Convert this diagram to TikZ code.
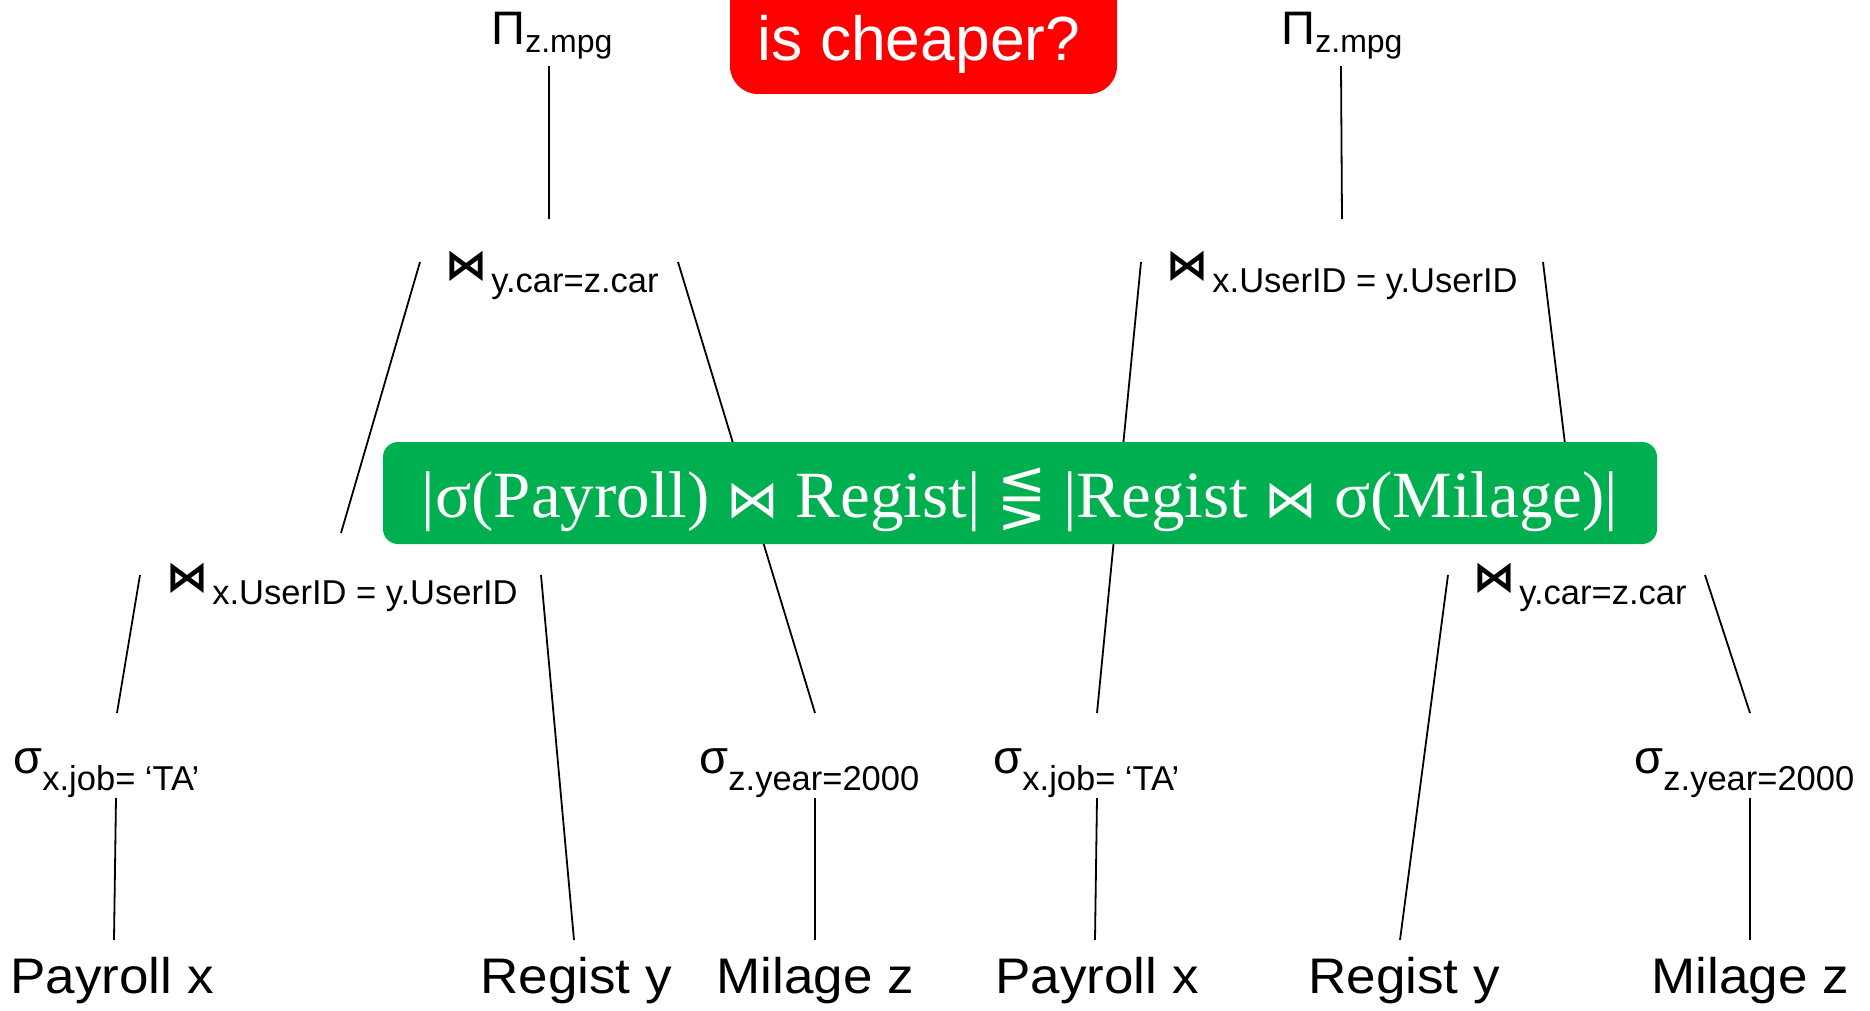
\documentclass[tikz,border=0pt]{standalone}
\usepackage{fontspec}
\usepackage{graphicx}
\setmainfont{Liberation Sans}
\newfontfamily\symfont{DejaVu Sans}
\newfontfamily\serfont{Liberation Serif}
\definecolor{cmpgreen}{RGB}{0,176,80}
\definecolor{askred}{RGB}{255,0,0}

% operator symbol with a lowered subscript condition
\newcommand{\oplabel}[4]{{\fontsize{23.5pt}{23.5pt}\selectfont #1}\raisebox{-#3}{\fontsize{#4}{#4}\selectfont #2}}
\newcommand{\joinlabel}[1]{{\symfont\bfseries\fontsize{21pt}{21pt}\selectfont ⋈}\hspace{2pt}\raisebox{-6.5pt}{\fontsize{17.25pt}{17.25pt}\selectfont #1}}
\newcommand{\leaftext}[1]{\scalebox{1.06}[1]{\fontsize{25pt}{25pt}\selectfont #1}}
% operator glyphs inside the comparison banner
\newcommand{\bnjoin}{{\symfont\fontsize{26pt}{26pt}\selectfont ⋈}}
\newcommand{\bnlesgtr}{{\symfont\fontsize{29pt}{29pt}\selectfont ⋚}}

\tikzset{
  lbl/.style={inner sep=0pt, anchor=base west},
  edge/.style={line width=0.9pt, black},
}

\begin{document}
\begin{tikzpicture}[x=0.5pt, y=-0.5pt]
\useasboundingbox (0,0) rectangle (1870,1011);
\clip (0,0) rectangle (1870,1011);

% ---- left plan ----
\node[lbl] (piL)  at (491,45)  {\oplabel{Π}{z.mpg}{4pt}{16pt}};
\node[lbl] (jL2)  at (445,279) {\joinlabel{y.car=z.car}};
\node[lbl] (jL3)  at (166,591) {\joinlabel{x.UserID = y.UserID}};
\node[lbl] (sxL)  at (13,773)  {\oplabel{σ}{x.job= ‘TA’}{8.5pt}{17.25pt}};
\node[lbl] (szL)  at (699,773) {\oplabel{σ}{z.year=2000}{8.5pt}{17.25pt}};
\node[lbl] (payL) at (10,993)  {\leaftext{Payroll x}};
\node[lbl] (regL) at (480,993) {\leaftext{Regist y}};
\node[lbl] (milL) at (716,993) {\leaftext{Milage z}};

% ---- right plan ----
\node[lbl] (piR)  at (1281,45)  {\oplabel{Π}{z.mpg}{4pt}{16pt}};
\node[lbl] (jR2)  at (1166,279) {\joinlabel{x.UserID = y.UserID}};
\node[lbl] (jR3)  at (1473,591) {\joinlabel{y.car=z.car}};
\node[lbl] (sxR)  at (993,773)  {\oplabel{σ}{x.job= ‘TA’}{8.5pt}{17.25pt}};
\node[lbl] (szR)  at (1634,773) {\oplabel{σ}{z.year=2000}{8.5pt}{17.25pt}};
\node[lbl] (payR) at (995,993)  {\leaftext{Payroll x}};
\node[lbl] (regR) at (1308,993) {\leaftext{Regist y}};
\node[lbl] (milR) at (1651,993) {\leaftext{Milage z}};

% ---- edge end points ----
\coordinate (piL-b)  at (549,66);   \coordinate (jL2-t)  at (549,219);
\coordinate (jL2-bl) at (420,262);  \coordinate (jL3-t)  at (341,533);
\coordinate (jL2-br) at (678,262);  \coordinate (szL-t)  at (815,713);
\coordinate (jL3-bl) at (140,575);  \coordinate (sxL-t)  at (117,713);
\coordinate (jL3-br) at (541,575);  \coordinate (regL-t) at (574,940);
\coordinate (sxL-b)  at (116,798);  \coordinate (payL-t) at (114,940);
\coordinate (szL-b)  at (815,798);  \coordinate (milL-t) at (815,940);

\coordinate (piR-b)  at (1341,66);  \coordinate (jR2-t)  at (1342,219);
\coordinate (jR2-bl) at (1141,262); \coordinate (sxR-t)  at (1097,713);
\coordinate (jR2-br) at (1543,262); \coordinate (jR3-t)  at (1576,535);
\coordinate (jR3-bl) at (1448,575); \coordinate (regR-t) at (1400,940);
\coordinate (jR3-br) at (1705,575); \coordinate (szR-t)  at (1750,713);
\coordinate (sxR-b)  at (1097,798); \coordinate (payR-t) at (1095,940);
\coordinate (szR-b)  at (1750,798); \coordinate (milR-t) at (1750,940);

\draw[edge] (piL-b) -- (jL2-t);
\draw[edge] (jL2-bl) -- (jL3-t);
\draw[edge] (jL2-br) -- (szL-t);
\draw[edge] (jL3-bl) -- (sxL-t);
\draw[edge] (jL3-br) -- (regL-t);
\draw[edge] (sxL-b) -- (payL-t);
\draw[edge] (szL-b) -- (milL-t);

\draw[edge] (piR-b) -- (jR2-t);
\draw[edge] (jR2-bl) -- (sxR-t);
\draw[edge] (jR2-br) -- (jR3-t);
\draw[edge] (jR3-bl) -- (regR-t);
\draw[edge] (jR3-br) -- (szR-t);
\draw[edge] (sxR-b) -- (payR-t);
\draw[edge] (szR-b) -- (milR-t);

% ---- comparison banner over the middle of both plans ----
\fill[cmpgreen, rounded corners=7.5pt] (383,442) rectangle (1657,544);
\node[inner sep=0pt, anchor=base, text=white] (cmp) at (1020,517)
  {\resizebox{598pt}{\height}{\serfont\fontsize{33pt}{33pt}\selectfont
   |σ(Payroll) \bnjoin{} Regist| \bnlesgtr{} |Regist \bnjoin{} σ(Milage)|}};

% ---- question tag at the top ----
\fill[askred, rounded corners=14pt] (730,-40) rectangle (1117,94);
\node[inner sep=0pt, anchor=base, text=white] (ask) at (919,61)
  {\fontsize{31.2pt}{31.2pt}\selectfont is cheaper?};
\end{tikzpicture}
\end{document}
